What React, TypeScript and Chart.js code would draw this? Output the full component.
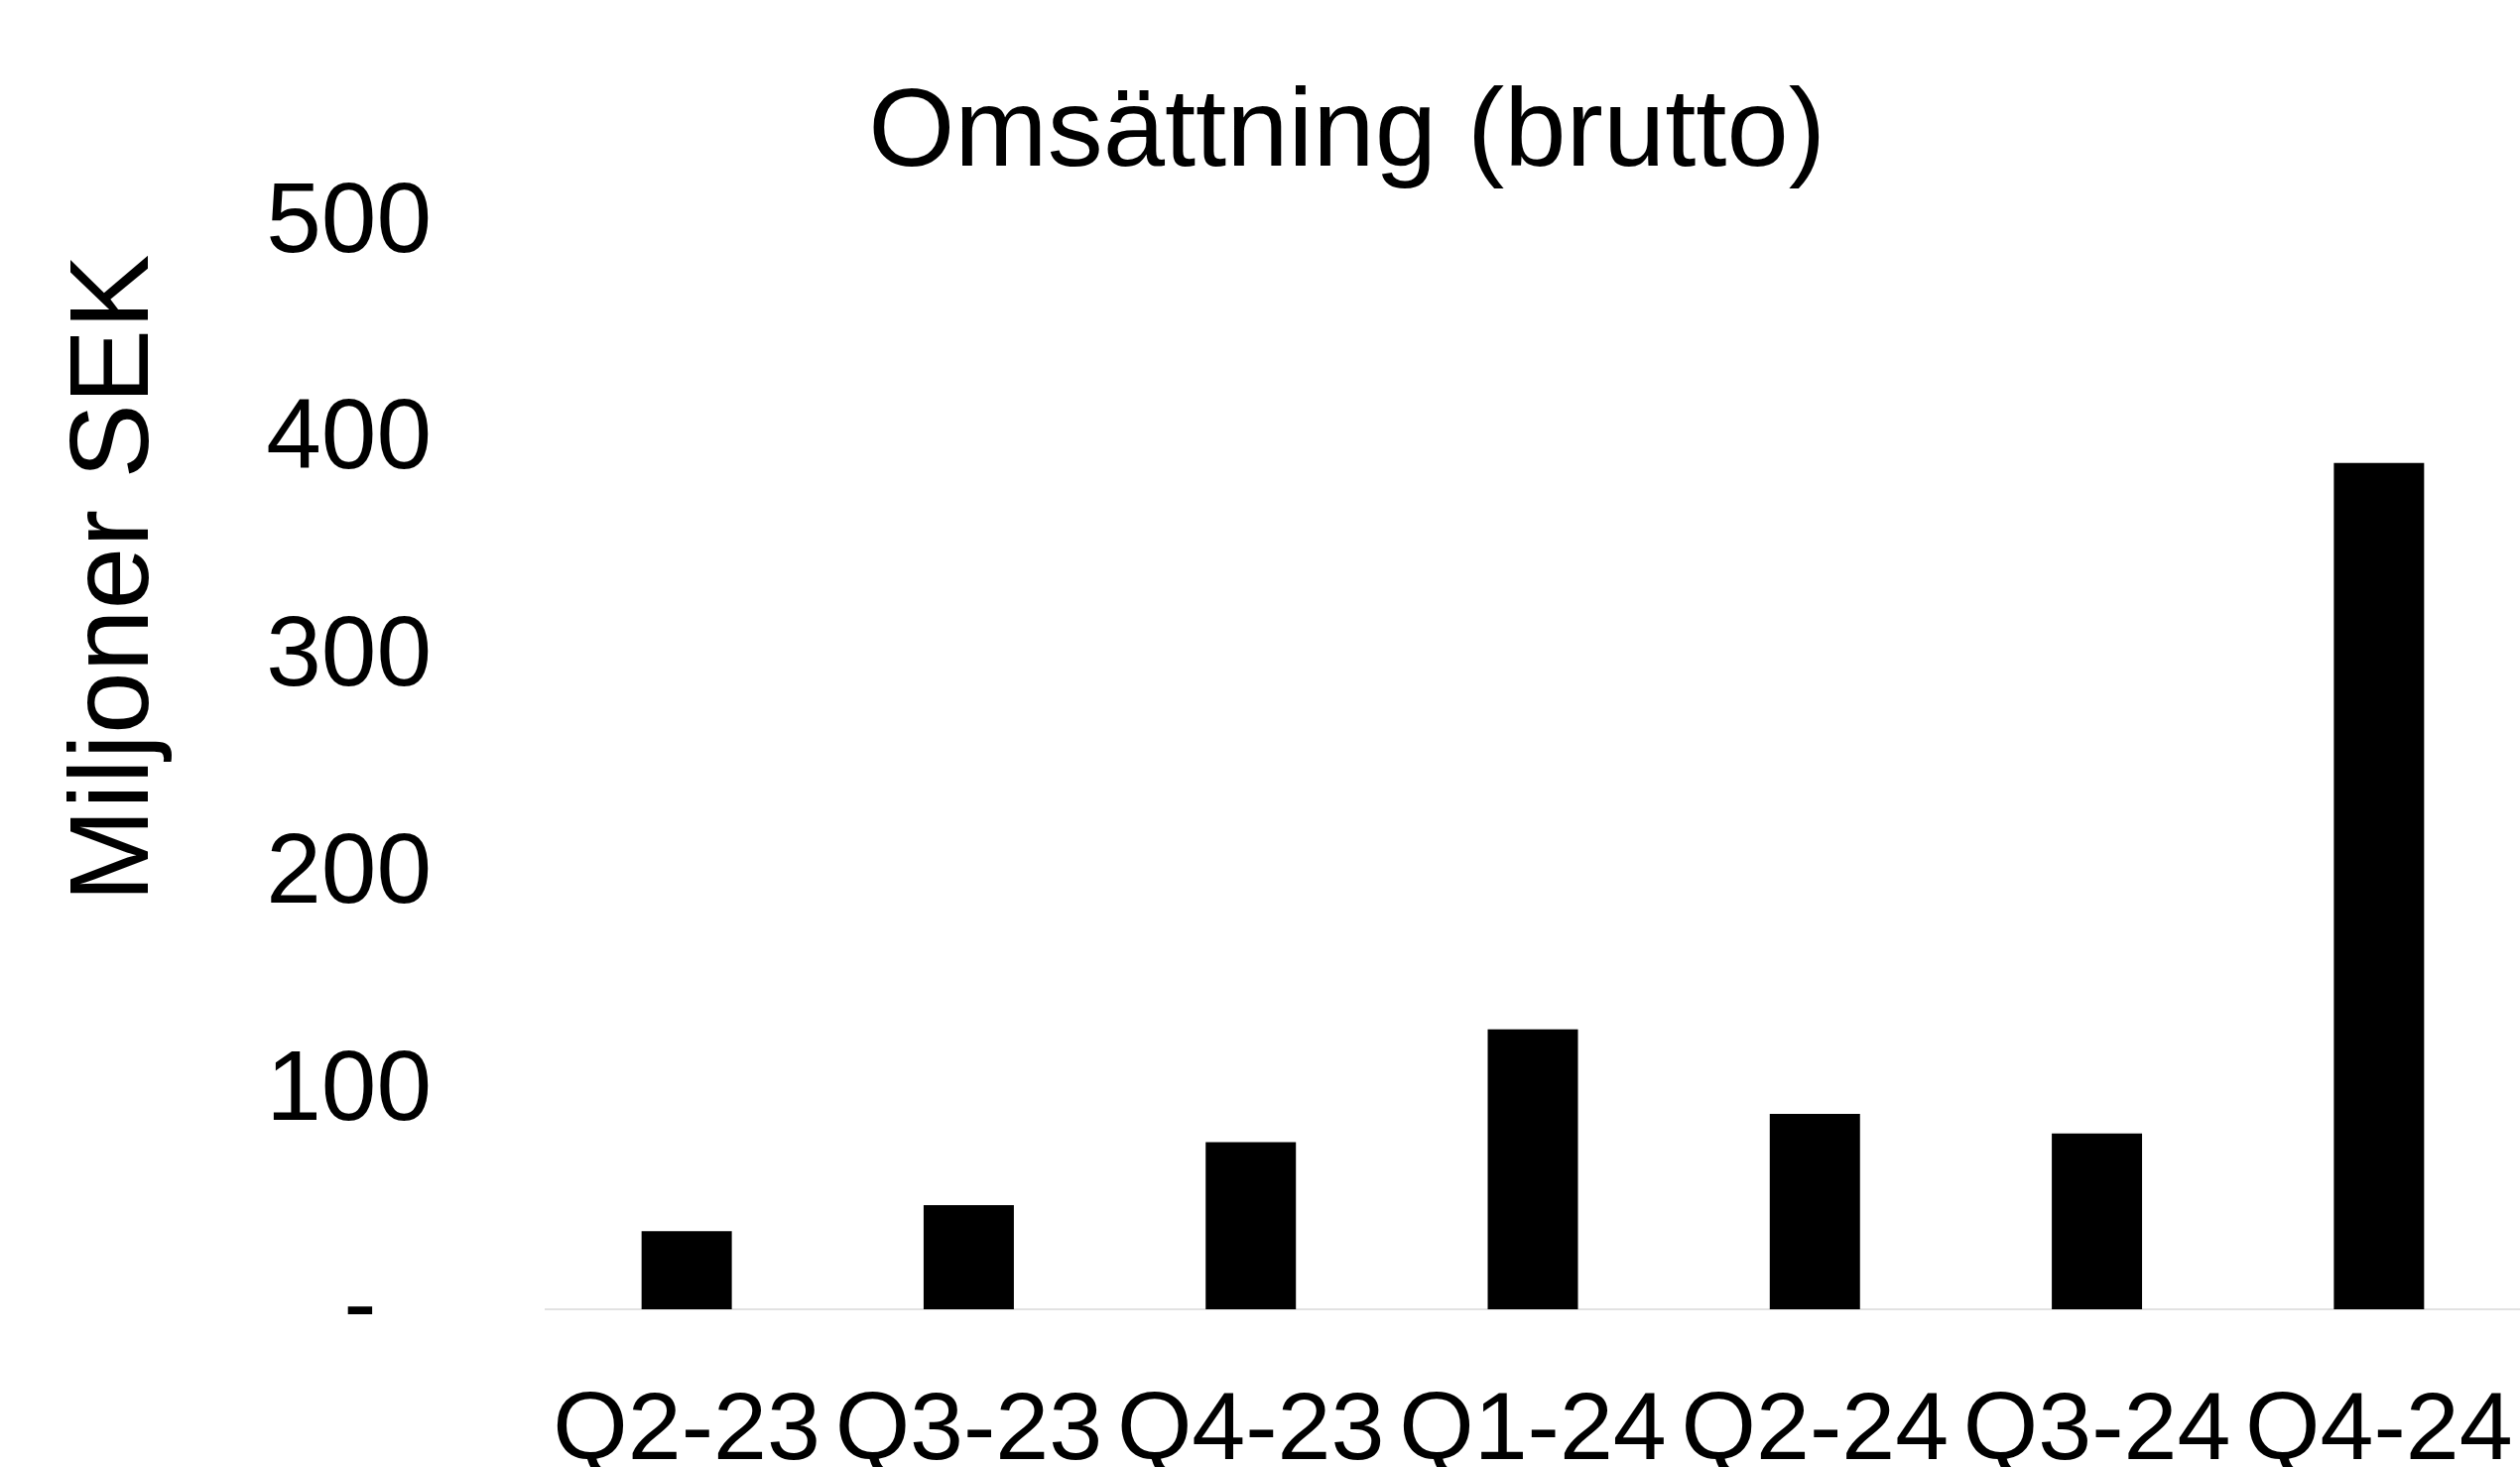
import React, { useEffect, useRef } from "react";
import { Chart, registerables } from "chart.js";

Chart.register(...registerables);

const categories = ["Q2-23", "Q3-23", "Q4-23", "Q1-24", "Q2-24", "Q3-24", "Q4-24"];
const revenue = [36, 48, 77, 129, 90, 81, 390];
const yTicks = [0, 100, 200, 300, 400, 500];
const chartTitle = "Omsättning (brutto)";
const yTitle = "Miljoner SEK";

const FONT = "'Liberation Sans', Arial, sans-serif";

const titlesPlugin = {
  id: "titlesPlugin",
  afterDraw(chart: any) {
    const ctx = chart.ctx;
    ctx.save();
    ctx.fillStyle = "#000";
    ctx.font = `112px ${FONT}`;
    ctx.textAlign = "center";
    ctx.textBaseline = "alphabetic";
    ctx.fillText(chartTitle, chart.width * 0.5345, 167);

    ctx.translate(118, 583);
    ctx.rotate(-Math.PI / 2);
    ctx.font = `113px ${FONT}`;
    ctx.textAlign = "center";
    ctx.textBaseline = "middle";
    ctx.fillText(yTitle, 0, 0);
    ctx.restore();
  },
};

export default function App() {
  const ref = useRef<HTMLCanvasElement | null>(null);

  useEffect(() => {
    if (!ref.current) return;
    const chart = new Chart(ref.current, {
      type: "bar",
      data: {
        labels: categories,
        datasets: [
          {
            label: chartTitle,
            data: revenue,
            backgroundColor: "#000000",
            borderWidth: 0,
            barPercentage: 0.32,
            categoryPercentage: 1,
          },
        ],
      },
      options: {
        animation: false,
        responsive: true,
        maintainAspectRatio: false,
        devicePixelRatio: 1,
        layout: { padding: { top: 226, left: 0, right: 0, bottom: 0 } },
        plugins: {
          legend: { display: false },
          title: { display: false },
          tooltip: { enabled: false },
        },
        scales: {
          x: {
            grid: { display: false, drawTicks: false },
            border: { display: true, color: "#e2e2e2", width: 2, dash: [3, 12] },
            ticks: {
              color: "#000",
              font: { family: FONT, size: 97 },
              padding: 66,
              maxRotation: 0,
              minRotation: 0,
              autoSkip: false,
            },
            afterFit: (scale: any) => {
              scale.height = 159;
              scale.paddingLeft = 0;
              scale.paddingRight = 0;
            },
          },
          y: {
            min: 0,
            max: 500,
            afterBuildTicks: (scale: any) => {
              scale.ticks = yTicks.map((v) => ({ value: v }));
            },
            grid: { display: false, drawTicks: false },
            border: { display: false },
            ticks: {
              color: "#000",
              font: { family: FONT, size: 100 },
              padding: 115,
              callback: (v: any) => (Number(v) === 0 ? "-  " : String(v)),
            },
            afterFit: (scale: any) => {
              scale.width = 550;
              scale.paddingTop = 0;
              scale.paddingBottom = 0;
            },
          },
        },
      },
      plugins: [titlesPlugin],
    });
    return () => chart.destroy();
  }, []);

  return (
    <div
      style={{
        position: "absolute",
        left: 0,
        top: 0,
        width: "2540px",
        height: "1479px",
        background: "#fff",
      }}
    >
      <canvas ref={ref} />
    </div>
  );
}
